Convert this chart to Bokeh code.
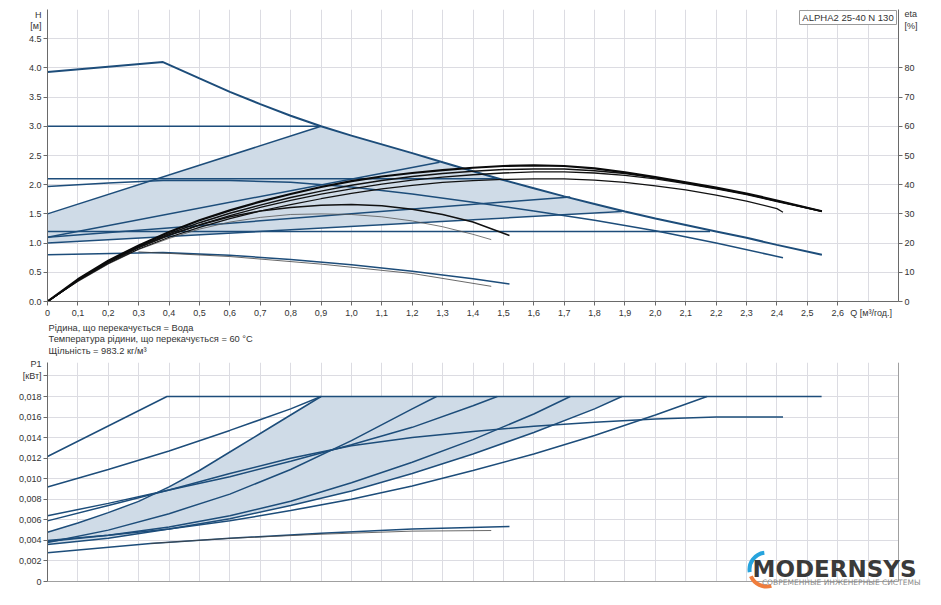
import numpy as np
from bokeh.plotting import figure
from bokeh.layouts import column
from bokeh.models import Range1d, LinearAxis, FixedTicker, CustomJSTickFormatter, Label, Title
from bokeh.embed import file_html
from bokeh.resources import INLINE

FONT = "Liberation Sans"
BLUE = "#1d4d7a"
FILL = "#cfdbe7"
GRID = "#dcdce2"
AX = "#6a6a6a"
TXT = "#333333"
TICK_FS = "9px"

# ---------------- data: axes ----------------
q_ticks = [round(0.1 * i, 1) for i in range(27)]
q_grid = [round(0.1 * i, 1) for i in range(29)]
h_ticks = [0.0, 0.5, 1.0, 1.5, 2.0, 2.5, 3.0, 3.5, 4.0, 4.5]
eta_ticks = [0, 10, 20, 30, 40, 50, 60, 70, 80]
p_ticks = [0.0, 0.002, 0.004, 0.006, 0.008, 0.010, 0.012, 0.014, 0.016, 0.018, 0.020]
q_unit = {2.71: "Q [м³/год.]"}
h_unit = {4.914: "H", 4.726: "[м]"}
eta_unit = {98.3: "eta", 94.5: "[%]"}
p_unit = {0.0212: "P1"}

# ---------------- H curves [m] ----------------
q_max = [0, 0.38, 0.5, 0.6, 0.7, 0.8, 0.9, 1.0, 1.1, 1.2, 1.3, 1.4, 1.5, 1.6, 1.7, 1.8, 1.9, 2.0, 2.1, 2.2, 2.3, 2.4, 2.548]
h_max = [3.93, 4.10, 3.82, 3.59, 3.38, 3.18, 3.0, 2.84, 2.69, 2.54, 2.385, 2.23, 2.08, 1.94, 1.80, 1.67, 1.54, 1.42, 1.31, 1.20, 1.09, 0.97, 0.80]
q_cp3 = [0, 0.9];   h_cp3 = [3.0, 3.0]
q_cp2 = [0, 1.48];  h_cp2 = [2.1, 2.1]
q_cp1 = [0, 2.18];  h_cp1 = [1.2, 1.2]
q_pp3 = [0, 0.9];   h_pp3 = [1.5, 3.0]
q_pp2 = [0, 1.29];  h_pp2 = [1.1, 2.385]
q_pp1 = [0, 1.72];  h_pp1 = [1.1, 1.79]
q_aa = [0, 1.89];   h_aa = [1.0, 1.54]
q_s2 = [0, 0.2, 0.38, 0.6, 0.8, 1.0, 1.2, 1.4, 1.6, 1.8, 2.0, 2.2, 2.42]
h_s2 = [1.97, 2.03, 2.07, 2.07, 2.04, 1.96, 1.84, 1.70, 1.55, 1.39, 1.21, 1.00, 0.75]
q_s1 = [0, 0.38, 0.6, 0.8, 1.0, 1.2, 1.4, 1.52]
h_s1 = [0.80, 0.84, 0.79, 0.72, 0.63, 0.52, 0.39, 0.30]
q_s1b = [0.3, 0.6, 0.9, 1.2, 1.46]
h_s1b = [0.85, 0.77, 0.64, 0.48, 0.26]

# ---------------- eta curves [%] ----------------
q_e = [round(0.1 * i, 1) for i in range(25)] + [2.548]
eta_1 = [0, 7.6, 14, 19.2, 23.8, 27.8, 31.2, 34.2, 36.8, 39.2, 41.2, 42.8, 44, 45, 45.8, 46.4, 46.6, 46.4, 45.6, 44.2, 42.6, 40.8, 39.0, 37.0, 34.6, 30.9]
eta_2 = [0, 7.4, 13.6, 18.8, 23.2, 27, 30.2, 33, 35.6, 37.8, 39.8, 41.4, 42.8, 43.8, 44.6, 45.2, 45.4, 45.4, 44.8, 43.8, 42.4, 40.6, 38.8, 36.8, 34.4, 30.9]
eta_3 = [0, 7.2, 13.4, 18.4, 22.6, 26.2, 29.4, 32.2, 34.6, 36.8, 38.6, 40.2, 41.6, 42.6, 43.4, 44, 44.4, 44.4, 44, 43.2, 42, 40.4, 38.6, 36.6, 34.2, 30.9]
q_e4 = [round(0.1 * i, 1) for i in range(25)] + [2.42]
eta_4 = [0, 7, 13, 18, 22, 25.4, 28.4, 31, 33.2, 35.2, 37, 38.6, 39.8, 40.8, 41.4, 41.8, 42, 42, 41.6, 40.8, 39.6, 38.2, 36.4, 34.4, 31.8, 30.6]
q_e5 = [round(0.1 * i, 1) for i in range(15)] + [1.52]
eta_5 = [0, 7.2, 13.4, 18.6, 22.8, 26.2, 29, 31, 32.2, 33, 33.2, 32.8, 31.6, 29.8, 27.2, 22.6]
q_e6 = [round(0.1 * i, 1) for i in range(15)] + [1.46]
eta_6 = [0, 6.8, 12.8, 17.8, 21.6, 24.8, 27.2, 28.8, 29.8, 30, 29.8, 29, 27.6, 25.6, 23, 21.2]

# ---------------- P1 curves [kW] ----------------
qp_s3 = [0, 0.393, 2.547];  p_s3 = [0.01216, 0.018, 0.018]
qp_cp3 = [0, 0.2, 0.4, 0.6, 0.8, 0.9]
p_cp3 = [0.0092, 0.0109, 0.0127, 0.0147, 0.0168, 0.018]
qp_pp3 = [0, 0.1, 0.2, 0.3, 0.4, 0.5, 0.6, 0.7, 0.8, 0.9]
p_pp3 = [0.0048, 0.0057, 0.0067, 0.0078, 0.0092, 0.0108, 0.0126, 0.0144, 0.0162, 0.018]
qp_cp2 = [0, 0.2, 0.4, 0.6, 0.8, 1.0, 1.2, 1.4, 1.48]
p_cp2 = [0.0064, 0.0076, 0.0089, 0.0102, 0.0117, 0.0133, 0.0150, 0.0171, 0.018]
qp_s2 = [0, 0.2, 0.4, 0.6, 0.8, 1.0, 1.2, 1.4, 1.6, 1.8, 2.0, 2.2, 2.42]
p_s2 = [0.0059, 0.0074, 0.0089, 0.0105, 0.0120, 0.0132, 0.0140, 0.0146, 0.0151, 0.0155, 0.0158, 0.0160, 0.0160]
qp_pp2 = [0, 0.2, 0.4, 0.6, 0.8, 1.0, 1.2, 1.28]
p_pp2 = [0.0038, 0.0050, 0.0066, 0.0085, 0.0109, 0.0137, 0.0168, 0.018]
qp_pp1 = [0, 0.2, 0.4, 0.6, 0.8, 1.0, 1.2, 1.4, 1.6, 1.72]
p_pp1 = [0.0039, 0.0045, 0.0053, 0.0064, 0.0078, 0.0096, 0.0116, 0.0138, 0.0163, 0.018]
qp_aa = [0, 0.2, 0.4, 0.6, 0.8, 1.0, 1.2, 1.4, 1.6, 1.8, 1.89]
p_aa = [0.0036, 0.0042, 0.0051, 0.0061, 0.0074, 0.0088, 0.0105, 0.0124, 0.0145, 0.0168, 0.018]
qp_cp1 = [0, 0.2, 0.4, 0.6, 0.8, 1.0, 1.2, 1.4, 1.6, 1.8, 2.0, 2.17]
p_cp1 = [0.0040, 0.0045, 0.0051, 0.0059, 0.0069, 0.0080, 0.0093, 0.0108, 0.0124, 0.0142, 0.0162, 0.018]
qp_s1 = [0, 0.339, 0.6, 0.9, 1.2, 1.52]
p_s1 = [0.0028, 0.0037, 0.0042, 0.0047, 0.0051, 0.00535]
qp_s1b = [0.339, 0.6, 0.9, 1.2, 1.46]
p_s1b = [0.0037, 0.0042, 0.0046, 0.0049, 0.00496]

info_lines = ["Рідина, що перекачується = Вода",
              "Температура рідини, що перекачується = 60 °C",
              "Щільність = 983.2 кг/м³"]
pump_name = "ALPHA2 25-40 N 130"
logo_main = "MODERNSYS"
logo_sub = "СОВРЕМЕННЫЕ ИНЖЕНЕРНЫЕ СИСТЕМЫ"


def style_axis(ax, ticks, extra, fmt):
    ax.ticker = FixedTicker(ticks=list(ticks) + list(extra.keys()), minor_ticks=list(ticks))
    ax.formatter = CustomJSTickFormatter(code=fmt)
    ax.major_label_overrides = dict(extra)
    ax.axis_line_color = AX
    ax.major_tick_line_color = None
    ax.major_tick_out = 4
    ax.major_tick_in = 0
    ax.minor_tick_line_color = AX
    ax.minor_tick_out = 4
    ax.minor_tick_in = 0
    ax.major_label_text_font = FONT
    ax.major_label_text_font_size = TICK_FS
    ax.major_label_text_color = TXT
    ax.major_label_standoff = 2


def lab(p, x, y, text, size="9.5px", align="left", base="middle", color=TXT, style="normal", font=FONT):
    p.add_layout(Label(x=x, y=y, text=text, text_font=font, text_font_size=size,
                       text_align=align, text_baseline=base, text_color=color,
                       text_font_style=style))


W = 925
PXU = 851 / 2.8          # pixels per Q unit in both frames

# ================= top figure =================
top = figure(width=W, height=358, x_range=Range1d(0, 2.8), y_range=Range1d(0, 5.0),
             output_backend="svg", toolbar_location=None, frame_align=False,
             min_border_left=47, min_border_right=27, min_border_top=9, min_border_bottom=57)
top.extra_y_ranges = {"eta": Range1d(0, 100)}
top.outline_line_color = None
top.background_fill_color = "white"
top.border_fill_color = "white"

style_axis(top.xaxis[0], q_ticks, q_unit,
           "return tick < 1e-9 ? '0' : tick.toFixed(1).replace('.', ',');")
style_axis(top.yaxis[0], h_ticks, h_unit, "return tick.toFixed(1);")
eta_ax = LinearAxis(y_range_name="eta")
style_axis(eta_ax, eta_ticks, eta_unit, "return tick.toFixed(0);")
top.add_layout(eta_ax, "right")

top.xgrid.ticker = FixedTicker(ticks=q_grid)
top.ygrid.ticker = FixedTicker(ticks=[0.5 * i for i in range(11)])
for g in (top.xgrid[0], top.ygrid[0]):
    g.grid_line_color = GRID
    g.grid_line_width = 1

# AUTOadapt area
qm = np.array(q_max); hm = np.array(h_max)
seg = (qm > q_pp3[1]) & (qm < q_aa[1])
poly_q = list(q_pp3) + list(qm[seg]) + [q_aa[1], q_aa[0]]
poly_h = list(h_pp3) + list(hm[seg]) + [float(np.interp(q_aa[1], qm, hm)), h_aa[0]]
top.patch(poly_q, poly_h, fill_color=FILL, line_color=None)

for qq, hh in [(q_cp3, h_cp3), (q_cp2, h_cp2), (q_cp1, h_cp1), (q_pp3, h_pp3),
               (q_pp2, h_pp2), (q_pp1, h_pp1), (q_aa, h_aa), (q_s2, h_s2), (q_s1, h_s1)]:
    top.line(qq, hh, line_color=BLUE, line_width=1.5)
top.line(q_s1b, h_s1b, line_color="#444444", line_width=0.8)
top.line(q_max, h_max, line_color=BLUE, line_width=2)

for qq, ee, w, c in [(q_e6, eta_6, 0.8, "#555555"), (q_e5, eta_5, 1.5, "#111111"),
                     (q_e4, eta_4, 1.2, "#111111"), (q_e, eta_3, 1.3, "#111111"),
                     (q_e, eta_2, 1.5, "#111111"), (q_e, eta_1, 2.2, "#0a0a0a")]:
    top.line(qq, ee, y_range_name="eta", line_color=c, line_width=w)

# pump name box (inside frame, top right)
bx_l, bx_r, bx_t, bx_b = (799 - 47) / PXU, (896 - 47) / PXU, (301 - 10) / 58.4, (301 - 24) / 58.4
top.quad(left=[bx_l], right=[bx_r], top=[bx_t], bottom=[bx_b], fill_color="white",
         line_color="#9a9a9a", line_width=1)
lab(top, (bx_l + bx_r) / 2, (bx_t + bx_b) / 2, pump_name, align="center")

# info text below the Q axis
top.add_layout(Title(text="\n".join(info_lines), align="left", offset=1, standoff=0,
                     text_font=FONT, text_font_size="9.3px", text_font_style="normal",
                     text_color=TXT, text_line_height=1.15), "below")

# ================= bottom figure =================
K = 0.018 / 185.0        # kW per pixel
bot = figure(width=W, height=231, x_range=Range1d(0, 878 / PXU), y_range=Range1d(-8 * K, 219 * K),
             output_backend="svg", toolbar_location=None, frame_align=False,
             min_border_left=47, min_border_right=0, min_border_top=4, min_border_bottom=0)
bot.outline_line_color = None
bot.background_fill_color = "white"
bot.border_fill_color = "white"
bot.xaxis.visible = False
style_axis(bot.yaxis[0], p_ticks, p_unit,
           "if (Math.abs(tick - 0.02) < 1e-6) return '[кВт]'; return tick < 1e-9 ? '0' : tick.toFixed(3).replace('.', ',');")
bot.yaxis.bounds = (0, 219 * K)
bot.xgrid.ticker = FixedTicker(ticks=q_grid)
bot.ygrid.ticker = FixedTicker(ticks=p_ticks)
for g in (bot.xgrid[0], bot.ygrid[0]):
    g.grid_line_color = GRID
    g.grid_line_width = 1

# mask the strip outside the plotting area (below 0 and right of 2.8)
bot.quad(left=[0, 2.8], right=[3.0, 3.0], bottom=[-0.002, -0.002], top=[0, 0.03],
         fill_color="white", line_color=None)
bot.segment(x0=[0, 2.8], y0=[0, 0], x1=[2.8, 2.8], y1=[0, 219 * K], line_color="#a0a0a0", line_width=1)

qa = np.array(qp_aa); pa = np.array(p_aa)
bpoly_q = list(qp_pp3) + [qp_aa[-1]] + list(qa[::-1])
bpoly_p = list(p_pp3) + [p_aa[-1]] + list(pa[::-1])
bot.patch(bpoly_q, bpoly_p, fill_color=FILL, line_color=None)

for qq, pp in [(qp_s3, p_s3), (qp_cp3, p_cp3), (qp_pp3, p_pp3), (qp_cp2, p_cp2), (qp_s2, p_s2),
               (qp_pp2, p_pp2), (qp_pp1, p_pp1), (qp_aa, p_aa), (qp_cp1, p_cp1), (qp_s1, p_s1)]:
    bot.line(qq, pp, line_color=BLUE, line_width=1.5)
bot.line(qp_s1b, p_s1b, line_color="#444444", line_width=0.8)

# logo (watermark), kept inside the page
cx, cy = (766 - 47) / PXU, (581 - 569) * K
bot.arc(x=[cx], y=[cy], radius=17, radius_units="screen", start_angle=1.7, end_angle=3.3,
        line_color="#27a4dd", line_width=4)
bot.arc(x=[cx], y=[cy], radius=17, radius_units="screen", start_angle=3.55, end_angle=5.0,
        line_color="#f07d3c", line_width=4)
lab(bot, (752 - 47) / PXU, (581 - 568) * K, logo_main, size="23px", color="#3a3a3a",
    style="bold", font="DejaVu Sans", base="middle")
lab(bot, (920 - 47) / PXU, (581 - 582) * K, logo_sub, size="7.5px", color="#8a8a8a",
    font="DejaVu Sans", base="middle", align="right")

layout = column(top, bot)
open("out.html", "w").write(file_html(layout, INLINE))
